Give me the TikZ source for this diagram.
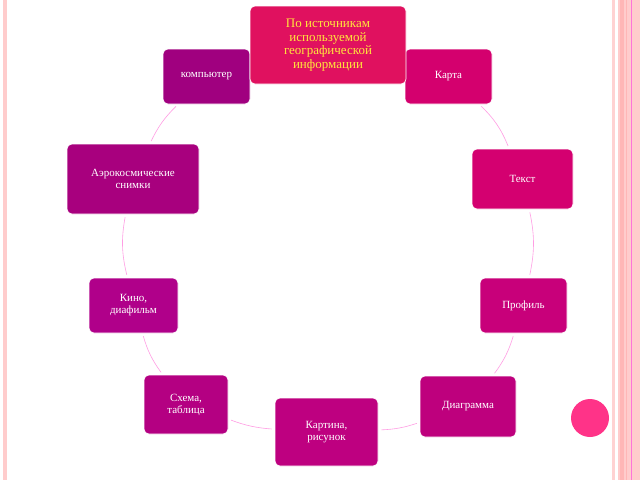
\documentclass[tikz,border=0pt]{standalone}
\usepackage{fontspec}
\setmainfont{Liberation Serif}
\begin{document}
\begin{tikzpicture}[x=1pt,y=-1pt,
  box/.style={rounded corners=5pt, draw=white, line width=0.6pt, text=white, align=center, inner sep=0pt, font=\fontsize{11}{12}\selectfont},
  link/.style={draw=pink!60!magenta!70, line width=0.6pt, shorten <=3pt, shorten >=3pt}]
\useasboundingbox (0,0) rectangle (640,480);
\fill[white] (0,0) rectangle (640,480);
\fill[pink!80] (3,0) rectangle (7,480);
\fill[pink!70] (612,0) rectangle (615,480);
\fill[pink!80] (618,0) rectangle (640,480);
\fill[pink!95!red] (620,0) rectangle (624,480);
\fill[pink!95!red] (626,0) rectangle (627,480);
\fill[pink!60!magenta] (631,0) rectangle (632,480);
\node[circle, fill={rgb,255:red,255;green,51;blue,136}, minimum size=38pt, inner sep=0pt] (dot) at (590,418) {};
% nodes
\node[box, fill={rgb,255:red,160;green,0;blue,127}, minimum width=87pt, minimum height=55pt] (comp) at (206.5,76.5) {компьютер};
\node[box, fill={rgb,255:red,212;green,0;blue,110}, minimum width=87pt, minimum height=55pt] (karta) at (448.5,76.5) {Карта};
\node[box, fill={rgb,255:red,224;green,17;blue,95}, minimum width=156pt, minimum height=78pt, text={rgb,255:red,255;green,230;blue,60}, font=\fontsize{13}{13.5}\selectfont] (top) at (328,45) {По источникам\\используемой\\географической\\информации};
\node[box, fill={rgb,255:red,168;green,0;blue,126}, minimum width=132pt, minimum height=70pt] (aero) at (133,179) {Аэрокосмические\\снимки};
\node[box, fill={rgb,255:red,212;green,0;blue,112}, minimum width=101pt, minimum height=60pt] (text) at (522.5,179) {Текст};
\node[box, fill={rgb,255:red,176;green,0;blue,138}, minimum width=89pt, minimum height=55pt] (kino) at (133.5,305.5) {Кино,\\диафильм};
\node[box, fill={rgb,255:red,200;green,0;blue,122}, minimum width=87pt, minimum height=55pt] (prof) at (523.5,305.5) {Профиль};
\node[box, fill={rgb,255:red,180;green,0;blue,130}, minimum width=84pt, minimum height=59pt] (shema) at (186,404.5) {Схема,\\таблица};
\node[box, fill={rgb,255:red,190;green,0;blue,128}, minimum width=103pt, minimum height=68pt] (kart) at (326.5,432) {Картина,\\рисунок};
\node[box, fill={rgb,255:red,190;green,0;blue,125}, minimum width=96pt, minimum height=61pt] (diag) at (468,406.5) {Диаграмма};
% connectors
\draw[link] (karta) to[bend left=12] (text);
\draw[link] (text) to[bend left=12] (prof);
\draw[link] (prof) to[bend left=10] (diag);
\draw[link] (diag) to[bend left=8] (kart);
\draw[link] (kart) to[bend left=8] (shema);
\draw[link] (shema) to[bend left=10] (kino);
\draw[link] (kino) to[bend left=12] (aero);
\draw[link] (aero) to[bend left=10] (comp);
\end{tikzpicture}
\end{document}
